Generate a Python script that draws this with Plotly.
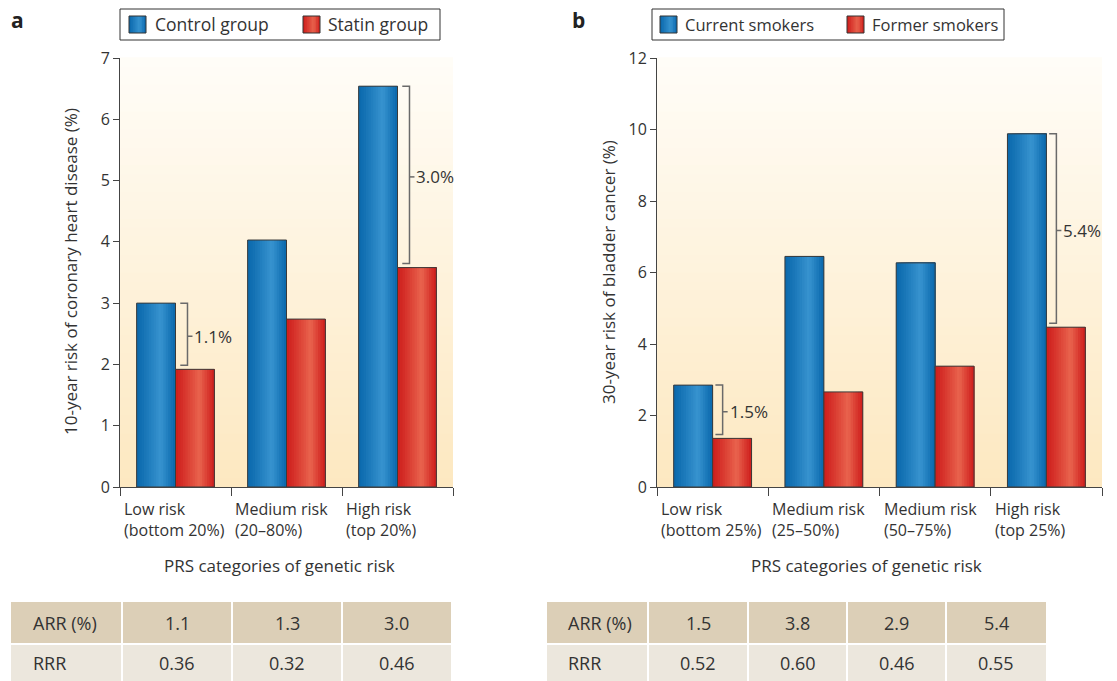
import plotly.graph_objects as go

# ---------------- data ----------------
cats_a = ["Low risk<br>(bottom 20%)", "Medium risk<br>(20–80%)", "High risk<br>(top 20%)"]
control = [3.00, 4.03, 6.54]
statin = [1.92, 2.74, 3.58]
arr_a = ["1.1", "1.3", "3.0"]
rrr_a = ["0.36", "0.32", "0.46"]
bracket_idx_a = [0, 2]

cats_b = ["Low risk<br>(bottom 25%)", "Medium risk<br>(25–50%)", "Medium risk<br>(50–75%)", "High risk<br>(top 25%)"]
current = [2.85, 6.45, 6.27, 9.88]
former = [1.36, 2.66, 3.38, 4.47]
arr_b = ["1.5", "3.8", "2.9", "5.4"]
rrr_b = ["0.52", "0.60", "0.46", "0.55"]
bracket_idx_b = [0, 3]

names_a = ["Control group", "Statin group"]
names_b = ["Current smokers", "Former smokers"]
table_rows = ["ARR (%)", "RRR"]

# ---------------- style ----------------
W, H = 1117, 681
FONT = "Open Sans"
TXT = "#333333"
AX = "#444444"
BLUE = ((10, 104, 172), (56, 148, 208))
RED = ((206, 30, 28), (233, 100, 78))
BG_BOT, BG_TOP = (253, 232, 192), (255, 253, 248)
BAR_W = 0.35
NSTRIPE = 16


def px(x):
    return x / W


def py(y):
    return 1 - y / H


def rgb(c):
    return "rgb(%d,%d,%d)" % tuple(int(round(v)) for v in c)


def mix(a, b, w):
    return tuple(a[i] + (b[i] - a[i]) * w for i in range(3))


def shade(pal, t, peak=0.62):
    w = t / peak if t <= peak else (1 - t) / (1 - peak)
    return rgb(mix(pal[0], pal[1], max(0.0, min(1.0, w)) ** 1.1))


fig = go.Figure()
shapes = []
annotations = []


def add_series(xa, ya, xs, ys, name, pal, left):
    base = -BAR_W if left else 0.0
    common = dict(x=xs, y=ys, xaxis=xa, yaxis=ya, hoverinfo="skip")
    fig.add_trace(go.Bar(name=name, width=BAR_W, offset=base,
                         marker=dict(color=shade(pal, 0.5), line=dict(width=0)),
                         showlegend=False, **common))
    for k in range(NSTRIPE):
        t = (k + 0.5) / NSTRIPE
        fig.add_trace(go.Bar(width=BAR_W * (1 - k / NSTRIPE),
                             offset=base + BAR_W * k / NSTRIPE,
                             marker=dict(color=shade(pal, t), line=dict(width=0)),
                             showlegend=False, **common))
    fig.add_trace(go.Bar(name=name, width=BAR_W, offset=base,
                         marker=dict(color="rgba(0,0,0,0)", line=dict(color="#3a3a3a", width=1)),
                         showlegend=False, **common))


def panel(xa, ya, cats, s1, s2, names, arr, rrr, bidx, xl, xr, ymax, dtick,
          boff, ytitle, ytx, letter, lx, legend_geo, table_geo, xtitle_cx):
    n = len(cats)
    xs = list(range(n))
    add_series(xa, ya, xs, s1, names[0], BLUE, True)
    add_series(xa, ya, xs, s2, names[1], RED, False)
    ax = "x" if xa == "x" else "x2"
    ay = "y" if ya == "y" else "y2"
    nb = 48
    for k in range(nb):
        shapes.append(dict(type="rect", xref=ax + " domain", yref=ay + " domain",
                           x0=0, x1=1, y0=k / nb, y1=(k + 1) / nb + 0.002,
                           fillcolor=rgb(mix(BG_BOT, BG_TOP, (k + 0.5) / nb)),
                           line=dict(width=0), layer="below"))
    gap = 4.0 * ymax / (487 - 58)
    for i in bidx:
        xb = i + boff
        top, bot = s1[i], s2[i] + gap
        mid = (s1[i] + s2[i]) / 2
        shapes.append(dict(type="path", xref=ax, yref=ay,
                           path=f"M {xb-0.065},{top} L {xb},{top} L {xb},{bot} L {xb-0.065},{bot}",
                           line=dict(color="#6a6a6a", width=1.5)))
        shapes.append(dict(type="line", xref=ax, yref=ay, x0=xb, x1=xb + 0.045, y0=mid, y1=mid,
                           line=dict(color="#6a6a6a", width=1.5)))
        annotations.append(dict(xref=ax, yref=ay, x=xb + 0.045, y=mid, text=f"{arr[i]}%",
                                showarrow=False, xanchor="left", yanchor="middle",
                                font=dict(family=FONT, size=17, color=TXT)))
    for i, c in enumerate(cats):
        annotations.append(dict(xref=ax, yref="paper", x=i - 0.5, y=py(496), text=c,
                                showarrow=False, xanchor="left", yanchor="top", align="left",
                                xshift=2, font=dict(family=FONT, size=16, color=TXT)))
    annotations.append(dict(xref="paper", yref="paper", x=px(xtitle_cx), y=py(565),
                            text="PRS categories of genetic risk", showarrow=False,
                            xanchor="center", yanchor="middle",
                            font=dict(family=FONT, size=17, color=TXT)))
    annotations.append(dict(xref="paper", yref="paper", x=px(ytx), y=py(272), text=ytitle,
                            textangle=-90, showarrow=False, xanchor="center", yanchor="middle",
                            font=dict(family=FONT, size=17, color=TXT)))
    annotations.append(dict(xref="paper", yref="paper", x=px(lx), y=py(20), text=f"<b>{letter}</b>",
                            showarrow=False, xanchor="center", yanchor="middle",
                            font=dict(family=FONT, size=21, color="#222")))
    bx0, bx1, items, lfs = legend_geo
    shapes.append(dict(type="rect", xref="paper", yref="paper", x0=px(bx0), x1=px(bx1),
                       y0=py(40), y1=py(9), line=dict(color="#333", width=1), fillcolor="white"))
    for (sx, tx), nm, pal in zip(items, names, [BLUE, RED]):
        ns = 8
        for k in range(ns):
            shapes.append(dict(type="rect", xref="paper", yref="paper",
                               x0=px(sx + 17 * k / ns), x1=px(sx + 17), y0=py(33), y1=py(16),
                               fillcolor=shade(pal, (k + 0.5) / ns), line=dict(width=0)))
        shapes.append(dict(type="rect", xref="paper", yref="paper", x0=px(sx), x1=px(sx + 17),
                           y0=py(33), y1=py(16), line=dict(color="#333", width=1)))
        annotations.append(dict(xref="paper", yref="paper", x=px(tx), y=py(24.5), text=nm,
                                showarrow=False, xanchor="left", yanchor="middle",
                                font=dict(family=FONT, size=lfs, color=TXT)))
    cols, lab_x = table_geo
    rows_y = [(602, 643), (645, 681)]
    fills = ["#dccfb7", "#ece7dd"]
    vals = [arr, rrr]
    for r, (y0, y1) in enumerate(rows_y):
        for c in range(len(cols) - 1):
            x0 = cols[c] + (0 if c == 0 else 1)
            x1 = cols[c + 1] - (0 if c == len(cols) - 2 else 1)
            shapes.append(dict(type="rect", xref="paper", yref="paper", x0=px(x0), x1=px(x1),
                               y0=py(y1), y1=py(y0), fillcolor=fills[r], line=dict(width=0)))
        cy = (y0 + y1) / 2
        annotations.append(dict(xref="paper", yref="paper", x=px(lab_x), y=py(cy), text=table_rows[r],
                                showarrow=False, xanchor="left", yanchor="middle",
                                font=dict(family=FONT, size=18, color=TXT)))
        for c, v in enumerate(vals[r]):
            cx = (cols[c + 1] + cols[c + 2]) / 2
            annotations.append(dict(xref="paper", yref="paper", x=px(cx), y=py(cy), text=v,
                                    showarrow=False, xanchor="center", yanchor="middle",
                                    font=dict(family=FONT, size=18, color=TXT)))
    n_b = [i - 0.5 for i in range(n + 1)]
    xaxis = dict(domain=[px(xl), px(xr)], range=[-0.5, n - 0.5], tickvals=n_b,
                 showticklabels=False, ticks="outside", ticklen=8, tickcolor=AX,
                 showline=True, linecolor=AX, linewidth=1, showgrid=False, zeroline=False,
                 anchor=ay, fixedrange=True, automargin=False)
    yaxis = dict(domain=[py(487), py(58)], range=[0, ymax], dtick=dtick, tick0=0,
                 ticks="outside", ticklen=6, tickcolor=AX, showline=True, linecolor=AX,
                 linewidth=1, showgrid=False, zeroline=False, anchor=ax,
                 tickfont=dict(family=FONT, size=16, color=TXT), fixedrange=True,
                 automargin=False)
    return xaxis, yaxis


xa1, ya1 = panel("x", "y", cats_a, control, statin, names_a, arr_a, rrr_a, bracket_idx_a,
                 120, 453, 7, 1, 0.108, "10-year risk of coronary heart disease (%)", 70,
                 "a", 17, (120, 440, [(129, 153), (303, 326)], 17.5),
                 ([11, 122, 232, 342, 451], 31), 279)
xa2, ya2 = panel("x2", "y2", cats_b, current, former, names_b, arr_b, rrr_b, bracket_idx_b,
                 657, 1102, 12, 2, 0.09, "30-year risk of bladder cancer (%)", 608,
                 "b", 578, (652, 1004, [(660, 683), (847, 870)], 16.5),
                 ([547, 648, 748, 847, 946, 1046], 566), 866)

fig.update_layout(
    width=W, height=H, margin=dict(l=0, r=0, t=0, b=0, autoexpand=False),
    paper_bgcolor="white", plot_bgcolor="rgba(0,0,0,0)",
    barmode="overlay", showlegend=False,
    xaxis=xa1, yaxis=ya1, xaxis2=xa2, yaxis2=ya2,
    shapes=shapes, annotations=annotations,
    font=dict(family=FONT, size=16, color=TXT),
)
fig.write_html("out.html", config={"displayModeBar": False},
               post_script="document.body.style.margin='0';document.body.style.overflow='hidden';")
